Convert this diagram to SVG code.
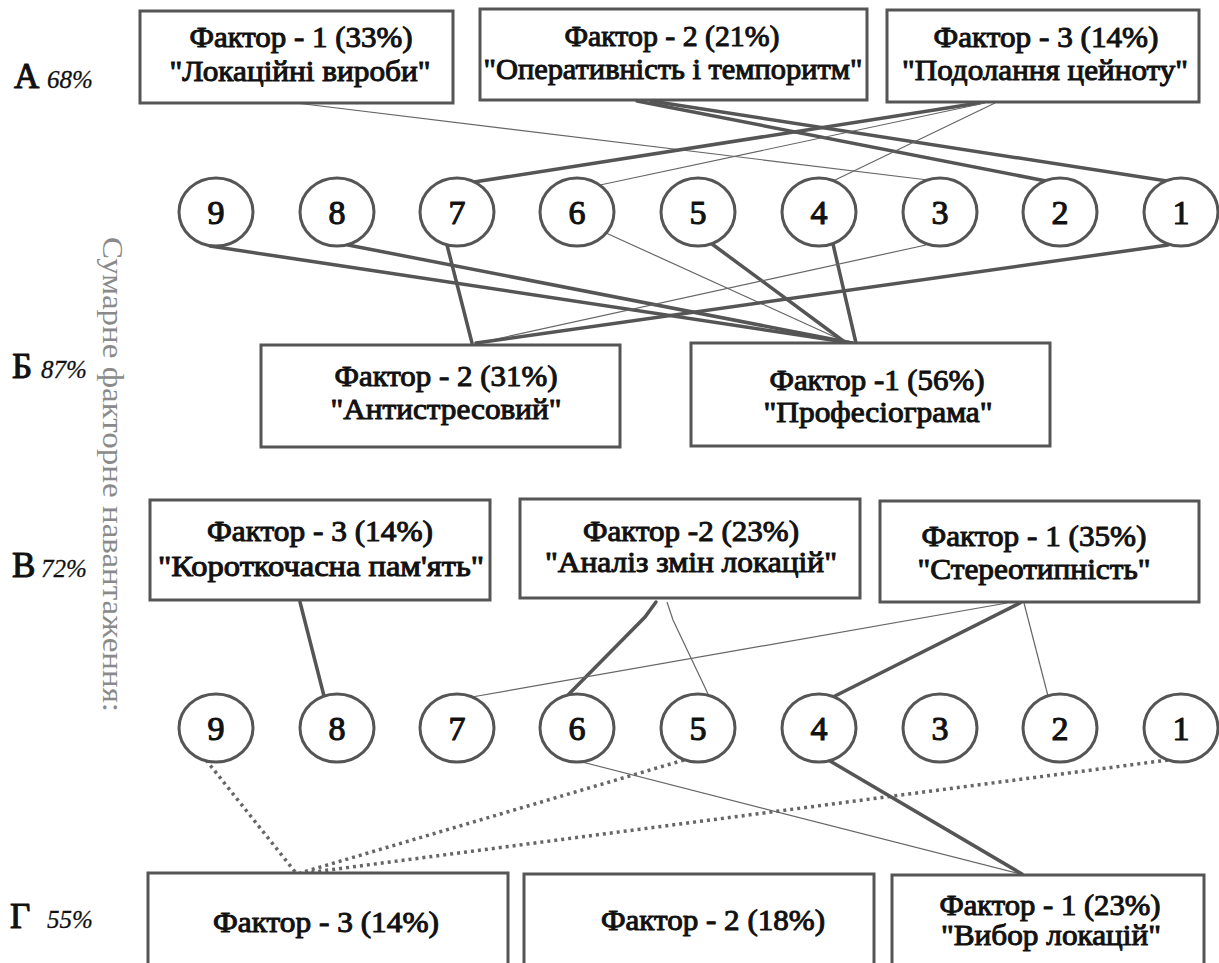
<svg xmlns="http://www.w3.org/2000/svg" width="1219" height="963" viewBox="0 0 1219 963">
<style>
.box{fill:#fff;stroke:#555;stroke-width:3}
.cir{fill:#fff;stroke:#555;stroke-width:3}
.bt{font-family:"Liberation Serif","Times New Roman",serif;font-size:29px;fill:#111;stroke:#111;stroke-width:1;stroke-linejoin:round;text-anchor:middle}
.num{font-family:"Liberation Serif","Times New Roman",serif;font-size:34px;fill:#111;stroke:#111;stroke-width:1.1;stroke-linejoin:round;text-anchor:middle}
.lt{font-family:"Liberation Serif","Times New Roman",serif;font-size:35px;fill:#111;stroke:#111;stroke-width:1.1;stroke-linejoin:round}
.pc{font-family:"Liberation Serif","Times New Roman",serif;font-style:italic;font-size:25px;fill:#111;stroke:#111;stroke-width:0.3}
.vt{font-family:"Liberation Serif","Times New Roman",serif;font-size:30px;fill:#8a8a8a}
.thick{stroke:#555;stroke-width:3.5;fill:none;stroke-linecap:round}
.thin{stroke:#666;stroke-width:1.2;fill:none}
.dot{stroke:#666;stroke-width:3.5;fill:none;stroke-dasharray:3 4}
</style>

<g id="labels">
<text class="lt" x="14" y="88">А</text><text class="pc" x="47" y="88">68%</text>
<text class="lt" x="12" y="378">Б</text><text class="pc" x="41" y="378">87%</text>
<text class="lt" x="12" y="577">В</text><text class="pc" x="41" y="577">72%</text>
<text class="lt" x="10" y="928">Г</text><text class="pc" x="47" y="928">55%</text>
<text class="vt" transform="translate(103,237) rotate(90)" x="0" y="0" textLength="475" lengthAdjust="spacingAndGlyphs">Сумарне факторне навантаження:</text>
</g>

<g id="connectors">
<line class="thin" x1="296" y1="103" x2="928" y2="180"/>
<line class="thick" x1="637" y1="101" x2="1046" y2="181"/>
<line class="thick" x1="651" y1="101" x2="1167" y2="181"/>
<line class="thick" x1="979" y1="103" x2="474" y2="182"/>
<line class="thin" x1="985" y1="103" x2="600" y2="185"/>
<line class="thin" x1="995" y1="103" x2="833" y2="181"/>
<line class="thick" x1="210" y1="246" x2="852" y2="343"/>
<line class="thick" x1="348" y1="245" x2="852" y2="343"/>
<line class="thick" x1="447" y1="245" x2="472" y2="343"/>
<line class="thin" x1="606" y1="233" x2="848" y2="343"/>
<line class="thick" x1="712" y1="244" x2="846" y2="343"/>
<line class="thick" x1="833" y1="244" x2="856" y2="343"/>
<line class="thin" x1="926" y1="245" x2="478" y2="343"/>
<line class="thick" x1="1168" y1="245" x2="476" y2="343"/>
<line class="thick" x1="300" y1="602" x2="324" y2="696"/>
<polyline class="thick" points="656,602 645,617 566,697"/>
<polyline class="thin" points="667,602 673,620 709,696"/>
<line class="thin" x1="1007" y1="603" x2="472" y2="697"/>
<line class="thick" x1="1020" y1="603" x2="833" y2="697"/>
<line class="thin" x1="1024" y1="603" x2="1048" y2="696"/>
<line class="dot" x1="206" y1="760" x2="296" y2="873"/>
<line class="dot" x1="684" y1="760" x2="300" y2="873"/>
<line class="dot" x1="1168" y1="760" x2="306" y2="873"/>
<line class="thin" x1="582" y1="762" x2="1020" y2="874"/>
<line class="thick" x1="830" y1="761" x2="1022" y2="874"/>
</g>

<g id="A1"><rect class="box" x="140" y="11" width="313" height="92"/>
<text class="bt" x="301" y="47" textLength="223" lengthAdjust="spacingAndGlyphs">Фактор - 1 (33%)</text>
<text class="bt" x="300" y="81" textLength="261" lengthAdjust="spacingAndGlyphs">"Локаційні вироби"</text></g>
<g id="A2"><rect class="box" x="480" y="9" width="387" height="91"/>
<text class="bt" x="672" y="46" textLength="215" lengthAdjust="spacingAndGlyphs">Фактор - 2 (21%)</text>
<text class="bt" x="673" y="79" textLength="379" lengthAdjust="spacingAndGlyphs">"Оперативність і темпоритм"</text></g>
<g id="A3"><rect class="box" x="887" y="10" width="312" height="92"/>
<text class="bt" x="1046" y="47" textLength="225" lengthAdjust="spacingAndGlyphs">Фактор - 3 (14%)</text>
<text class="bt" x="1045" y="80" textLength="286" lengthAdjust="spacingAndGlyphs">"Подолання цейноту"</text></g>

<g id="r1c9"><ellipse class="cir" cx="216" cy="212" rx="37" ry="34"/><text class="num" x="216" y="224">9</text></g>
<g id="r1c8"><ellipse class="cir" cx="337" cy="212" rx="37" ry="34"/><text class="num" x="337" y="224">8</text></g>
<g id="r1c7"><ellipse class="cir" cx="457" cy="212" rx="37" ry="34"/><text class="num" x="457" y="224">7</text></g>
<g id="r1c6"><ellipse class="cir" cx="577" cy="212" rx="37" ry="34"/><text class="num" x="577" y="224">6</text></g>
<g id="r1c5"><ellipse class="cir" cx="698" cy="212" rx="37" ry="34"/><text class="num" x="698" y="224">5</text></g>
<g id="r1c4"><ellipse class="cir" cx="819" cy="212" rx="37" ry="34"/><text class="num" x="819" y="224">4</text></g>
<g id="r1c3"><ellipse class="cir" cx="940" cy="212" rx="37" ry="34"/><text class="num" x="940" y="224">3</text></g>
<g id="r1c2"><ellipse class="cir" cx="1060" cy="212" rx="37" ry="34"/><text class="num" x="1060" y="224">2</text></g>
<g id="r1c1"><ellipse class="cir" cx="1181" cy="212" rx="37" ry="34"/><text class="num" x="1181" y="224">1</text></g>

<g id="B2"><rect class="box" x="261" y="345" width="359" height="102"/>
<text class="bt" x="446" y="386" textLength="223" lengthAdjust="spacingAndGlyphs">Фактор - 2 (31%)</text>
<text class="bt" x="446" y="419" textLength="231" lengthAdjust="spacingAndGlyphs">"Антистресовий"</text></g>
<g id="B1"><rect class="box" x="691" y="343" width="359" height="103"/>
<text class="bt" x="877" y="390" textLength="215" lengthAdjust="spacingAndGlyphs">Фактор -1 (56%)</text>
<text class="bt" x="878" y="422" textLength="229" lengthAdjust="spacingAndGlyphs">"Професіограма"</text></g>

<g id="V3"><rect class="box" x="150" y="500" width="340" height="100"/>
<text class="bt" x="320" y="541" textLength="226" lengthAdjust="spacingAndGlyphs">Фактор - 3 (14%)</text>
<text class="bt" x="321" y="576" textLength="326" lengthAdjust="spacingAndGlyphs">"Короткочасна пам'ять"</text></g>
<g id="V2"><rect class="box" x="520" y="499" width="340" height="99"/>
<text class="bt" x="691" y="541" textLength="216" lengthAdjust="spacingAndGlyphs">Фактор -2 (23%)</text>
<text class="bt" x="691" y="572" textLength="292" lengthAdjust="spacingAndGlyphs">"Аналіз змін локацій"</text></g>
<g id="V1"><rect class="box" x="880" y="501" width="319" height="101"/>
<text class="bt" x="1034" y="546" textLength="225" lengthAdjust="spacingAndGlyphs">Фактор - 1 (35%)</text>
<text class="bt" x="1034" y="579" textLength="233" lengthAdjust="spacingAndGlyphs">"Стереотипність"</text></g>

<g id="r2c9"><ellipse class="cir" cx="216" cy="728" rx="37" ry="34"/><text class="num" x="216" y="740">9</text></g>
<g id="r2c8"><ellipse class="cir" cx="337" cy="728" rx="37" ry="34"/><text class="num" x="337" y="740">8</text></g>
<g id="r2c7"><ellipse class="cir" cx="457" cy="728" rx="37" ry="34"/><text class="num" x="457" y="740">7</text></g>
<g id="r2c6"><ellipse class="cir" cx="577" cy="728" rx="37" ry="34"/><text class="num" x="577" y="740">6</text></g>
<g id="r2c5"><ellipse class="cir" cx="698" cy="728" rx="37" ry="34"/><text class="num" x="698" y="740">5</text></g>
<g id="r2c4"><ellipse class="cir" cx="819" cy="728" rx="37" ry="34"/><text class="num" x="819" y="740">4</text></g>
<g id="r2c3"><ellipse class="cir" cx="940" cy="728" rx="37" ry="34"/><text class="num" x="940" y="740">3</text></g>
<g id="r2c2"><ellipse class="cir" cx="1060" cy="728" rx="37" ry="34"/><text class="num" x="1060" y="740">2</text></g>
<g id="r2c1"><ellipse class="cir" cx="1181" cy="728" rx="37" ry="34"/><text class="num" x="1181" y="740">1</text></g>

<g id="G3"><rect class="box" x="148" y="873" width="360" height="100"/>
<text class="bt" x="326" y="932" textLength="226" lengthAdjust="spacingAndGlyphs">Фактор - 3 (14%)</text></g>
<g id="G2"><rect class="box" x="524" y="874" width="350" height="100"/>
<text class="bt" x="713" y="930" textLength="224" lengthAdjust="spacingAndGlyphs">Фактор - 2 (18%)</text></g>
<g id="G1"><rect class="box" x="892" y="875" width="312" height="100"/>
<text class="bt" x="1050" y="915" textLength="221" lengthAdjust="spacingAndGlyphs">Фактор - 1 (23%)</text>
<text class="bt" x="1051" y="945" textLength="220" lengthAdjust="spacingAndGlyphs">"Вибор локацій"</text></g>
</svg>
